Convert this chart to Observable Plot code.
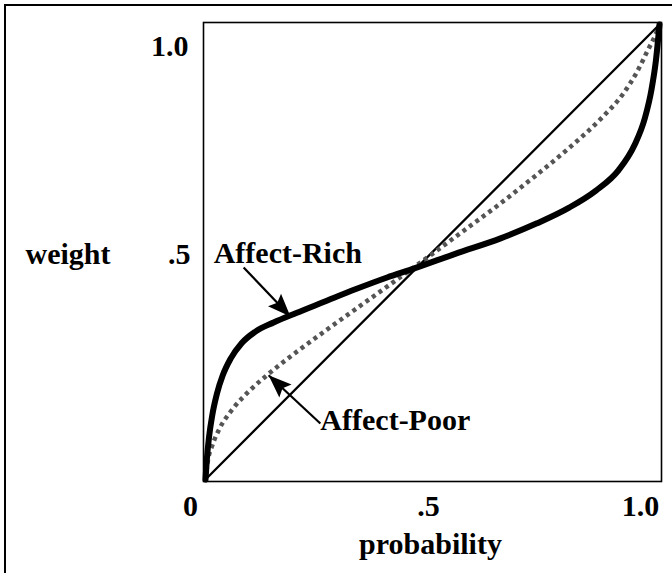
<!DOCTYPE html>
<html><head><meta charset="utf-8">
<script src="https://cdn.jsdelivr.net/npm/d3@7"></script>
<script src="https://cdn.jsdelivr.net/npm/@observablehq/plot@0.6"></script>
<style>
html,body{margin:0;padding:0;background:#fff;}
#wrap{position:relative;width:672px;height:573px;overflow:hidden;}
#border{position:absolute;left:4px;top:4px;width:700px;height:620px;border-left:2px solid #000;border-top:2px solid #000;}
#chart{position:absolute;left:0;top:0;}
</style></head><body>
<div id="wrap"><div id="border"></div><div id="chart"></div></div>
<script>
// ---- data ----
const probRich   = [0, 0.003, 0.008, 0.015, 0.025, 0.038, 0.055, 0.08, 0.11, 0.15, 0.2, 0.26, 0.33, 0.4, 0.46, 0.55, 0.65, 0.73, 0.8, 0.86, 0.91, 0.945, 0.968, 0.982, 0.992, 1];
const weightRich = [0, 0.045, 0.095, 0.142, 0.188, 0.229, 0.265, 0.3, 0.325, 0.345, 0.366, 0.39, 0.418, 0.444, 0.464, 0.496, 0.53, 0.563, 0.597, 0.635, 0.68, 0.735, 0.795, 0.855, 0.92, 1];
const probPoor   = [0, 0.005, 0.015, 0.03, 0.06, 0.1, 0.14, 0.2, 0.26, 0.33, 0.4, 0.46, 0.55, 0.65, 0.72, 0.8, 0.87, 0.92, 0.95, 0.975, 0.99, 1];
const weightPoor = [0, 0.04, 0.075, 0.11, 0.155, 0.198, 0.233, 0.28, 0.324, 0.374, 0.424, 0.467, 0.533, 0.607, 0.662, 0.728, 0.792, 0.848, 0.895, 0.945, 0.975, 1];
const probDiag   = [0, 1];
const weightDiag = [0, 1];
const xTicks = [0, 0.5, 1];
const xTickLabels = ["0", ".5", "1.0"];
const yTicks = [0.5, 1];
const yTickLabels = [".5", "1.0"];
const xTitle = "probability";
const yTitle = "weight";
const annotLabels = ["Affect-Rich", "Affect-Poor"];
const annotX = [0.018, 0.253];
const annotY = [0.475, 0.108];
const arrowFromX = [0.084, 0.253];
const arrowFromY = [0.466, 0.123];
const arrowToX = [0.187, 0.139];
const arrowToY = [0.358, 0.229];

// ---- build tables ----
const rich = probRich.map((p, i) => ({p, w: weightRich[i]}));
const poor = probPoor.map((p, i) => ({p, w: weightPoor[i]}));
const diag = probDiag.map((p, i) => ({p, w: weightDiag[i]}));
const annots = annotLabels.map((t, i) => ({t, x: annotX[i], y: annotY[i]}));
const arrows = arrowFromX.map((x1, i) => ({
  x1, y1: arrowFromY[i], x2: arrowToX[i], y2: arrowToY[i],
  angle: Math.atan2(arrowToX[i] - x1, arrowToY[i] - arrowFromY[i]) * 180 / Math.PI
}));

// filled arrow head with tip at the origin, pointing up
const headSymbol = {
  draw(ctx) { ctx.moveTo(0, 0); ctx.lineTo(9, 23); ctx.lineTo(0, 19); ctx.lineTo(-9, 23); ctx.closePath(); }
};

const xDx = [-15, -4, -19];
const yDy = [2, 22];
const yPad = [13, 15];

const chart = Plot.plot({
  width: 672,
  height: 573,
  marginLeft: 203,
  marginRight: 11,
  marginTop: 22,
  marginBottom: 92,
  insetLeft: 2, insetRight: 2, insetTop: 2, insetBottom: 2,
  x: {domain: [0, 1]},
  y: {domain: [0, 1]},
  style: {fontFamily: "'Liberation Serif', 'Times New Roman', serif", fontSize: "30px", fontWeight: "bold", color: "#000", background: "transparent"},
  marks: [
    Plot.frame({stroke: "#000", strokeWidth: 1.6}),
    ...xTicks.map((t, i) => Plot.axisX({ticks: [t], tickFormat: () => xTickLabels[i], tickSize: 0, tickPadding: 13, dx: xDx[i], label: null, fill: "#000"})),
    ...yTicks.map((t, i) => Plot.axisY({ticks: [t], tickFormat: () => yTickLabels[i], tickSize: 0, tickPadding: yPad[i], dy: yDy[i], label: null, fill: "#000"})),
    Plot.text([xTitle], {x: 0.5, frameAnchor: "bottom", text: d => d, lineAnchor: "bottom", dy: 72, dx: -2, fill: "#000"}),
    Plot.text([yTitle], {y: 0.5, frameAnchor: "left", text: d => d, textAnchor: "start", lineAnchor: "bottom", dx: -178, dy: 11.5, fill: "#000"}),
    Plot.line(diag, {x: "p", y: "w", stroke: "#000", strokeWidth: 2.3}),
    Plot.line(poor, {x: "p", y: "w", stroke: "#555", strokeWidth: 4.5, strokeDasharray: "4,4", strokeLinecap: "butt", curve: "monotone-x"}),
    Plot.line(rich, {x: "p", y: "w", stroke: "#000", strokeWidth: 6, curve: "monotone-x"}),
    Plot.link(arrows, {x1: "x1", y1: "y1", x2: "x2", y2: "y2", stroke: "#000", strokeWidth: 2.2}),
    Plot.dot(arrows, {x: "x2", y: "y2", symbol: headSymbol, rotate: "angle", fill: "#000", stroke: "none", r: 8}),
    Plot.text(annots, {x: "x", y: "y", text: "t", textAnchor: "start", lineAnchor: "bottom", fill: "#000"})
  ]
});
document.getElementById("chart").appendChild(chart);
</script>
</body></html>
